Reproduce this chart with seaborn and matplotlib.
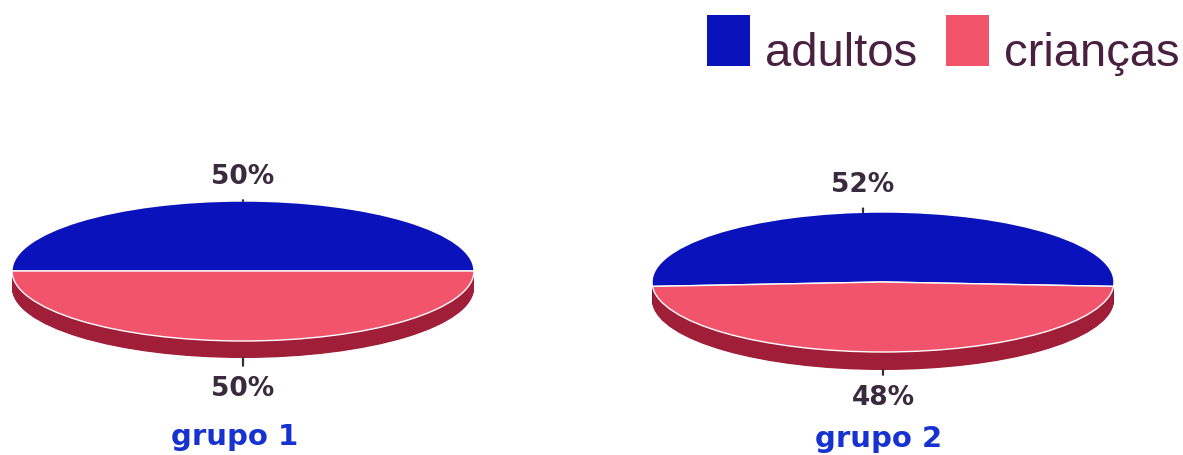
import numpy as np
import matplotlib
matplotlib.use("Agg")
import matplotlib.pyplot as plt
import seaborn as sns
from matplotlib.legend_handler import HandlerPatch
from matplotlib.patches import Rectangle

# ---- data ----
categories = ["adultos", "crianças"]
groups = ["grupo 1", "grupo 2"]
adultos = [50, 52]
criancas = [50, 48]

sns.set_theme(style="white")
plt.rcParams['font.family'] = ['DejaVu Sans']

W, H, DPI = 1183, 455, 100
fig = plt.figure(figsize=(W / DPI, H / DPI), dpi=DPI)
fig.patch.set_facecolor('white')

face_colors = ['#0a12bc', '#f2546c']
side_colors = ['#08097a', '#a01e38']
label_color = '#3a2a3e'
title_color = '#1632d0'
legend_text_color = '#4a2040'

# layout (pixels)
centers = [(243, 271), (883, 282)]
RX, RY = 231, 70
depths = [17, 18]
top_dx = [0, -20]
top_dy = [24, 27]
bot_dy = [31, 28]
title_off = [(-8, 166), (-4, 157)]

legend_handles = None
for i, g in enumerate(groups):
    vals = [adultos[i], criancas[i]]
    total = sum(vals)
    cx, cy = centers[i]
    d = depths[i] / RY
    start = 90 - vals[0] / total * 180
    ax = fig.add_axes([0, 0, 1, 1])
    nsteps = 30
    for k in range(nsteps, 0, -1):
        off = d * k / nsteps
        sw, _ = ax.pie(vals, colors=side_colors, startangle=start, center=(0, -off),
                       wedgeprops=dict(edgecolor='none', linewidth=0))
        sw[0].set_zorder(1)
        sw[1].set_zorder(2)
    top, _ = ax.pie(vals, colors=face_colors, startangle=start,
                    wedgeprops=dict(edgecolor='white', linewidth=1.0))
    for w in top:
        w.set_zorder(3)
    if legend_handles is None:
        legend_handles = top
    ax.set_aspect('auto')
    ax.set_xlim(-cx / RX, (W - cx) / RX)
    ax.set_ylim(-(H - cy) / RY, cy / RY)
    ax.axis('off')

    t1 = np.deg2rad(start + vals[0] / total * 360 + vals[1] / total * 180)
    ux = top_dx[i] / RX
    ap = dict(arrowstyle='-', color=label_color, lw=1.6, shrinkA=5, shrinkB=0)
    ax.annotate(f"{vals[0]}%", xy=(ux, np.sqrt(1 - ux ** 2)), xytext=(0, top_dy[i]),
                textcoords='offset pixels', ha='center', va='center', fontsize=19,
                fontweight='bold', color=label_color, arrowprops=ap, zorder=5)
    ax.annotate(f"{vals[1]}%", xy=(np.cos(t1), np.sin(t1) - d), xytext=(0, -bot_dy[i]),
                textcoords='offset pixels', ha='center', va='center', fontsize=19,
                fontweight='bold', color=label_color, arrowprops=ap, zorder=5)
    ax.text(title_off[i][0] / RX, -title_off[i][1] / RY, g, ha='center', va='center',
            fontsize=21, fontweight='bold', color=title_color)

fsz = 34
px2pt = 72 / DPI


def square(legend, orig_handle, xdescent, ydescent, width, height, fontsize):
    return Rectangle((-xdescent, -ydescent), 43 * px2pt, 51 * px2pt)


fig.legend(legend_handles, categories, loc='lower right',
           bbox_to_anchor=(1180 / W, 1 - 76 / H), ncol=2, frameon=False,
           prop={'family': 'Liberation Sans', 'size': fsz}, labelcolor=legend_text_color,
           handlelength=43 * px2pt / fsz, handleheight=0.7,
           handletextpad=15 * px2pt / fsz, columnspacing=29 * px2pt / fsz,
           borderpad=0, borderaxespad=0,
           handler_map={type(legend_handles[0]): HandlerPatch(patch_func=square)})
for lh in fig.legends[0].legend_handles:
    lh.set_edgecolor('none')

fig.savefig('out.png', dpi=DPI)
